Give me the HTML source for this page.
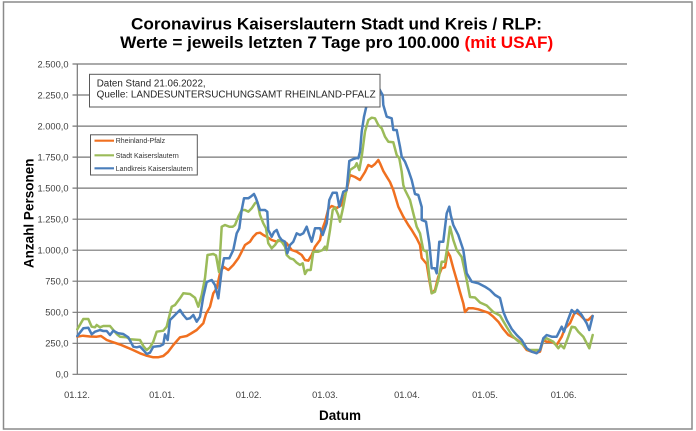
<!DOCTYPE html>
<html><head><meta charset="utf-8"><style>
html,body{margin:0;padding:0;background:#fff;}
svg{display:block;}
text{font-family:"Liberation Sans",Arial,sans-serif;}
</style></head><body>
<svg width="696" height="431" viewBox="0 0 696 431" xmlns="http://www.w3.org/2000/svg">
<rect x="0" y="0" width="696" height="431" fill="#fff"/>
<rect x="3.5" y="2" width="688.5" height="427" fill="#fff" stroke="#8a8a8a" stroke-width="1.5"/>

<!-- title -->
<text x="336.5" y="29.5" font-size="17" font-weight="bold" text-anchor="middle" fill="#000" textLength="411" lengthAdjust="spacingAndGlyphs">Coronavirus Kaiserslautern Stadt und Kreis / RLP:</text>
<text x="336.7" y="48" font-size="17" font-weight="bold" text-anchor="middle" fill="#000" textLength="433" lengthAdjust="spacingAndGlyphs">Werte = jeweils letzten 7 Tage pro 100.000 <tspan fill="#ff0000">(mit USAF)</tspan></text>

<!-- gridlines -->
<g stroke="#777" stroke-width="1.2">
<line x1="72.5" y1="64" x2="627" y2="64"/>
<line x1="72.5" y1="95" x2="627" y2="95"/>
<line x1="72.5" y1="126.1" x2="627" y2="126.1"/>
<line x1="72.5" y1="157.1" x2="627" y2="157.1"/>
<line x1="72.5" y1="188.1" x2="627" y2="188.1"/>
<line x1="72.5" y1="219.2" x2="627" y2="219.2"/>
<line x1="72.5" y1="250.2" x2="627" y2="250.2"/>
<line x1="72.5" y1="281.2" x2="627" y2="281.2"/>
<line x1="72.5" y1="312.3" x2="627" y2="312.3"/>
<line x1="72.5" y1="343.3" x2="627" y2="343.3"/>
<line x1="72.5" y1="374.3" x2="627" y2="374.3"/>
<line x1="77.3" y1="64" x2="77.3" y2="374.3"/>
</g>

<!-- y labels -->
<g font-size="9.3" fill="#404040" text-anchor="end">
<text x="68.5" y="67.4">2.500,0</text>
<text x="68.5" y="98.4">2.250,0</text>
<text x="68.5" y="129.5">2.000,0</text>
<text x="68.5" y="160.5">1.750,0</text>
<text x="68.5" y="191.5">1.500,0</text>
<text x="68.5" y="222.6">1.250,0</text>
<text x="68.5" y="253.6">1.000,0</text>
<text x="68.5" y="284.6">750,0</text>
<text x="68.5" y="315.7">500,0</text>
<text x="68.5" y="346.7">250,0</text>
<text x="68.5" y="377.7">0,0</text>
</g>

<!-- x labels -->
<g font-size="9.3" fill="#404040" text-anchor="middle">
<text x="77" y="398">01.12.</text>
<text x="162" y="398">01.01.</text>
<text x="248.7" y="398">01.02.</text>
<text x="325" y="398">01.03.</text>
<text x="407" y="398">01.04.</text>
<text x="485" y="398">01.05.</text>
<text x="563.7" y="398">01.06.</text>
</g>

<!-- axis titles -->
<text x="340" y="420" font-size="13.5" font-weight="bold" text-anchor="middle" fill="#000">Datum</text>
<text transform="translate(33.3,213.3) rotate(-90)" font-size="13.5" font-weight="bold" text-anchor="middle" fill="#000">Anzahl Personen</text>

<!-- series -->
<g fill="none" stroke-width="2.5" stroke-linejoin="round" stroke-linecap="round">
<polyline stroke="#f07020" points="77.3,336.7 83,335.7 90,336.5 96.7,336.7 101,336 106.7,340 113.3,342.3 120,344.5 126.7,347.3 133,350 140,353.3 146,355.5 153.3,357.3 158,357.3 163.3,356 168,352 173.3,345 180,337.3 186.7,336 191,333.5 196.7,330 203.3,323.3 206,314 210,306.7 213.3,293.3 216.7,288.3 220,273.3 223.3,266.7 228.3,270 233.3,265 238.3,258.3 241.7,251.7 245,245 250,241.7 253.3,236.7 256.7,233.3 260,232.7 263.3,235 266.7,236.7 271.7,240 276.7,241.7 281.7,240 286.7,243.3 291.7,250 296.7,251.7 301.7,255 305,260 308.3,260.7 311.7,255 315,246.7 320,240 322,230 325,222 328.3,209 331.7,206 336.7,208 341.7,205 346.7,190 350,175 355,177 360,180 365,172 368.3,165 371.7,166.7 375,164 378.3,160 380,163.3 383.3,171 386.7,176.7 390,182 393.3,190 398.3,206.7 403.3,216.7 408.3,225 411.7,230 416.7,238.3 420,245 421.7,258 426.7,264 429.3,280 431.7,293.3 435,290 438.3,276.7 441.7,268.3 445,267.3 447.7,252 450,256 453.3,268.3 456.7,280 460,292 463.3,303.3 465,312 468.3,308.3 473.3,308.3 478.3,309.3 483.3,311 488.3,312.7 493.3,316.7 498.3,321.7 503.3,329 508.3,335 515,338.3 521.7,343.3 526.7,350 531.7,351.7 536.7,352.7 540,351.7 543.3,340 546.7,341.7 551.7,341.7 556.7,345 561.7,336.7 565,328.3 570,323.3 575,311.7 580,315 585,320 588.3,320 592.3,316"/>
<polyline stroke="#9bbb59" points="77.3,329.3 83.3,319 88.3,319 91.7,326.7 95,327.3 96.7,325 100,327.3 103.3,326 106.7,326 110,326 113.3,330 116.7,334 120,336.7 126.7,337.3 130,339.3 140,340 143.3,346 146.7,350 150,347.3 153.3,341.7 156.7,331.7 163.3,330.7 166.7,326.7 168.3,320 171.7,306.7 175,305 180,298.3 183.3,293.3 190,294 195,297.7 198.3,306.7 201.7,295 205,278 207.5,255 213.3,254 216,255.5 219,272 221.7,226.7 225,225 229.3,226.7 232.7,226.7 235,225 238.3,216.7 241.7,210 245,210 248.3,211.7 251.7,208.3 255,203.3 257.3,201.7 260,215 263.3,223.3 266,228.3 268.3,243.3 271.7,248.3 275,245 278.3,240 281.7,241.7 285,246.7 286.7,255 290,258.3 293.3,259.3 296.7,262.7 300,265 302.7,263.3 305,274 307.3,270 310.7,270 313.3,251.7 318.3,251.7 322.7,250 325,246.7 326.7,250 330,230 332.7,210 335,207.5 338.3,215 340,221.7 343.3,206.7 346.7,188.3 350,170 355,166.7 356.7,163.3 359.3,170 361.7,156.7 365,131.7 368.3,120 371.7,117.7 375,118.3 378.3,125 381.7,128.3 385,136.7 388.3,141.7 393.3,142.3 396.7,155 399.3,158.3 401.7,171.7 403.3,185 405,190 410,200 413.3,213.3 416.7,226.7 420,233.3 423.3,250 426.7,251.7 429.3,276.7 431.7,293.3 435,291.7 438.3,280 441.7,261.7 445,261.7 447.7,245 450,226.7 453.3,240 456.7,250 461.7,257 466.7,280 470,297 475,297.5 480,302.5 486.7,305.5 493.3,312 500,315.5 506.7,327 511.7,335 516.7,340 523.3,345 528.3,350 533.3,350 540,350 543.3,340 546.7,338.3 553.3,341.7 558.3,348.3 560.7,345 564,348.3 568.3,336.7 571.7,326.7 575,327.3 578.3,331.7 583.3,336.7 589.3,348.3 592.7,335"/>
<polyline stroke="#4a7ebb" points="77.3,336 83.3,328.3 88.3,327.7 91.7,334.3 95,331.7 100,330 103.3,331 106.7,331 110,335 113.3,330.7 118.3,333.3 123.3,334 128.3,337.3 133.3,346.7 136.7,347.3 140,346.5 143.3,350 146.7,354 150,352.7 153.3,346.7 160,346 163.3,344.3 165,334.3 167.7,340 170,320 173.3,316.7 176.7,313.3 180,310 183.3,315 186.7,319 190,318.3 193.3,315 196.7,321.7 200,316.7 203.3,296.7 206.7,282 211.7,280 215,285 218.3,298.3 221.7,270 224,258.3 229.3,258.3 233.3,250 236.7,233.3 239.3,228.3 241.7,210 244,198.3 248.3,198.3 250.7,196.7 254,194 256,198.3 258.3,205 260,210 265,210 267.3,211.7 268.3,230 271.7,236.7 274,232 276.7,230 279.3,236.7 281.7,240 285,241.7 287.3,253.3 290,245 293.3,241.7 296.7,233.3 300,235 303.3,233.3 306.7,226.7 309.3,235 311.7,241.7 315,228.3 320,228.3 322.7,235 326.7,223.3 329.3,200 332.7,192.7 336.7,192.7 339.3,206.7 343.3,191.7 346.7,190 349.3,161 353.3,159 356.7,158 358.3,158.3 360,151.7 361.7,131.7 364,116.7 366,108 370,95 375,88 378,86 380.7,91.7 382.7,95 383.3,105 386.7,116.7 391.7,118.3 393.3,130 396.7,130 398.3,138.3 400,146.7 401.7,156.7 405,161.7 408.3,170 411.7,180 415,194 418.3,195 421.7,207 421.7,220 426,221.7 429.3,243.3 431.7,268.3 435,268.3 436.7,273.3 439.3,241.7 443.3,241.7 446.7,213.3 449.3,206.7 450.7,215 453.3,225 458.3,235 463.3,250 466.7,273.3 471.7,281.7 478.3,283.3 485,286.7 490,290 495,295 500,298 503.3,311.7 506.7,320 511.7,329 516.7,335 521.7,340 526.7,348.3 531.7,351.7 536.7,353.3 540,350 543.3,338.3 546.7,335 551.7,336.7 556.7,336.7 561.7,326.7 564,331.7 567.3,321.7 571.7,310 575,313.3 577.3,310 581.7,315 586.7,323.3 589.3,330 592.7,316"/>
</g>

<!-- info box -->
<rect x="89.5" y="74.3" width="290.5" height="32.7" fill="#fff" stroke="#595959" stroke-width="1"/>
<text x="96.7" y="86.7" font-size="9.8" fill="#262626">Daten Stand 21.06.2022,</text>
<text x="96.7" y="97.7" font-size="9.8" fill="#262626" textLength="279" lengthAdjust="spacingAndGlyphs">Quelle: LANDESUNTERSUCHUNGSAMT RHEINLAND-PFALZ</text>

<!-- legend -->
<rect x="90.5" y="134.8" width="106.8" height="40.2" fill="#fff" stroke="#595959" stroke-width="1"/>
<g stroke-width="2.2">
<line x1="94.5" y1="140.7" x2="114" y2="140.7" stroke="#f07020"/>
<line x1="94.5" y1="155.3" x2="114" y2="155.3" stroke="#9bbb59"/>
<line x1="94.5" y1="168.3" x2="114" y2="168.3" stroke="#4a7ebb"/>
</g>
<g font-size="7" fill="#333">
<text x="115.7" y="143.2">Rheinland-Pfalz</text>
<text x="115.7" y="157.8">Stadt Kaiserslautern</text>
<text x="115.7" y="170.8">Landkreis Kaiserslautern</text>
</g>
</svg>
</body></html>
